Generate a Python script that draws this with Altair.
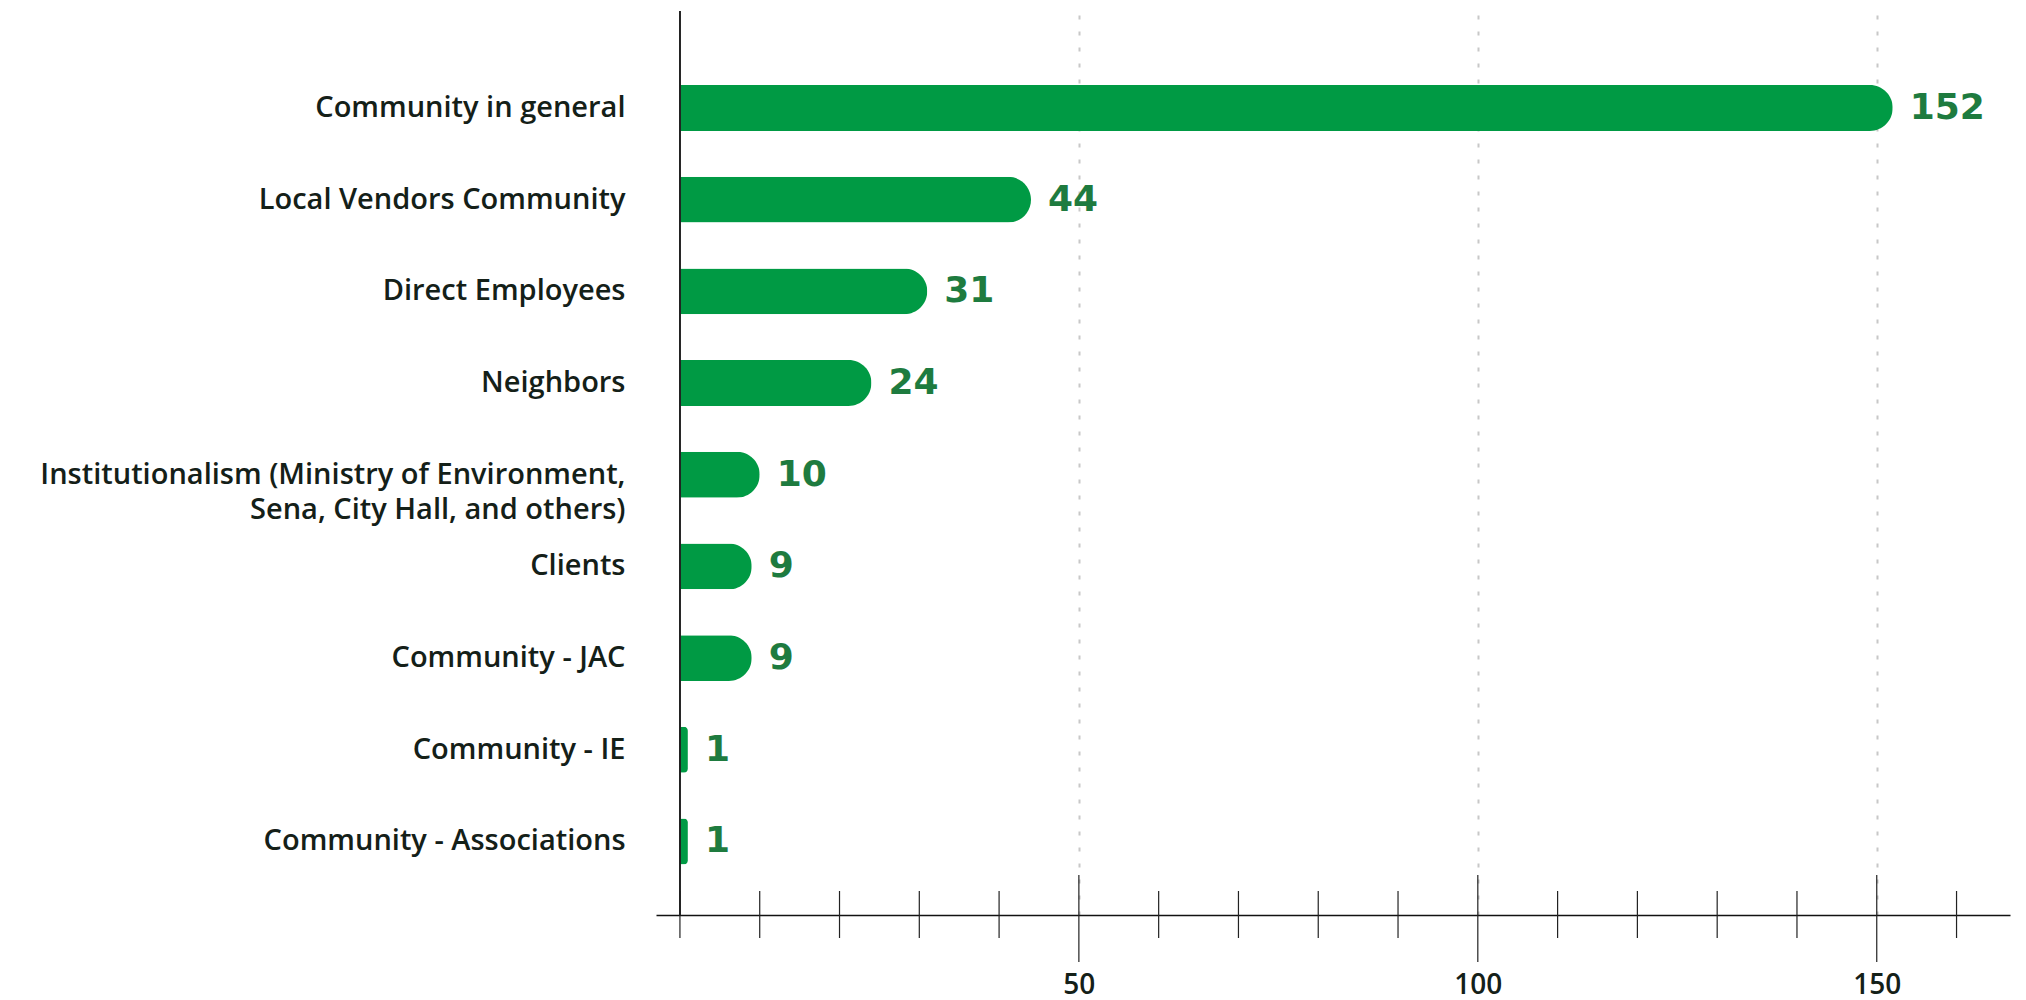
import altair as alt
import pandas as pd

categories = [
    "Community in general",
    "Local Vendors Community",
    "Direct Employees",
    "Neighbors",
    "Institutionalism (Ministry of Environment,|Sena, City Hall, and others)",
    "Clients",
    "Community - JAC",
    "Community - IE",
    "Community - Associations",
]
values = [152, 44, 31, 24, 10, 9, 9, 1, 1]
major_ticks = [50, 100, 150]
minor_ticks = [0, 10, 20, 30, 40, 60, 70, 80, 90, 110, 120, 130, 140, 160]

df = pd.DataFrame({"cat": categories, "v": values})
df_major = pd.DataFrame({"v": major_ticks})
df_minor = pd.DataFrame({"v": minor_ticks})

BAR = "#009a44"
LABEL_GREEN = "#1e7b3f"
TEXT = "#142018"
W, H = 1354, 904

xscale = alt.Scale(domain=[-3, 166.7], nice=False, zero=False)
yscale = alt.Scale(domain=categories, paddingInner=0.5, paddingOuter=0.68, align=0.594)

x_axis = alt.Axis(
    values=major_ticks, title=None, ticks=False, tickSize=0,
    labelFont="Open Sans", labelFontSize=28, labelFontWeight=600,
    labelColor=TEXT, labelPadding=56,
    domainColor="#111111", domainWidth=1.5,
    grid=True, gridDash=[4, 12], gridColor="#c8c8c8", gridWidth=2,
)
y_axis = alt.Axis(
    title=None, ticks=False, tickSize=0, domain=False, grid=False,
    labelFont="Open Sans", labelFontSize=29, labelFontWeight=600,
    labelColor=TEXT, labelPadding=31,
    labelLimit=1000, labelLineHeight=35,
    labelExpr="split(datum.label, '|')",
)

bars = alt.Chart(df).mark_bar(color=BAR, cornerRadiusEnd=23).encode(
    x=alt.X("v:Q", scale=xscale, axis=x_axis),
    y=alt.Y("cat:N", scale=yscale, axis=y_axis, sort=None),
)

labels = alt.Chart(df).mark_text(
    align="left", baseline="middle", dx=17,
    font="DejaVu Sans", fontWeight="bold", fontSize=36, color=LABEL_GREEN,
).encode(
    x=alt.X("v:Q", scale=xscale),
    y=alt.Y("cat:N", scale=yscale, sort=None),
    text=alt.Text("v:Q"),
)

vline = alt.Chart(df_major).mark_rule(color="#222222", strokeWidth=1.5).encode(
    x=alt.datum(0, scale=xscale),
    y=alt.value(0),
    y2=alt.value(H),
)

minor = alt.Chart(df_minor).mark_rule(color="#222222", strokeWidth=1.2).encode(
    x=alt.X("v:Q", scale=xscale),
    y=alt.value(H - 24),
    y2=alt.value(H + 23),
)

major = alt.Chart(df_major).mark_rule(color="#222222", strokeWidth=1.2).encode(
    x=alt.X("v:Q", scale=xscale),
    y=alt.value(H - 40),
    y2=alt.value(H + 47),
)

chart = alt.layer(bars, vline, minor, major, labels).properties(
    width=W, height=H,
    background="white",
    autosize=alt.AutoSizeParams(type="none"),
    padding={"left": 656, "top": 11, "right": 16, "bottom": 85},
).configure_view(stroke=None, strokeWidth=0)

chart.save("out.html", embed_options={"renderer": "svg", "actions": False})
